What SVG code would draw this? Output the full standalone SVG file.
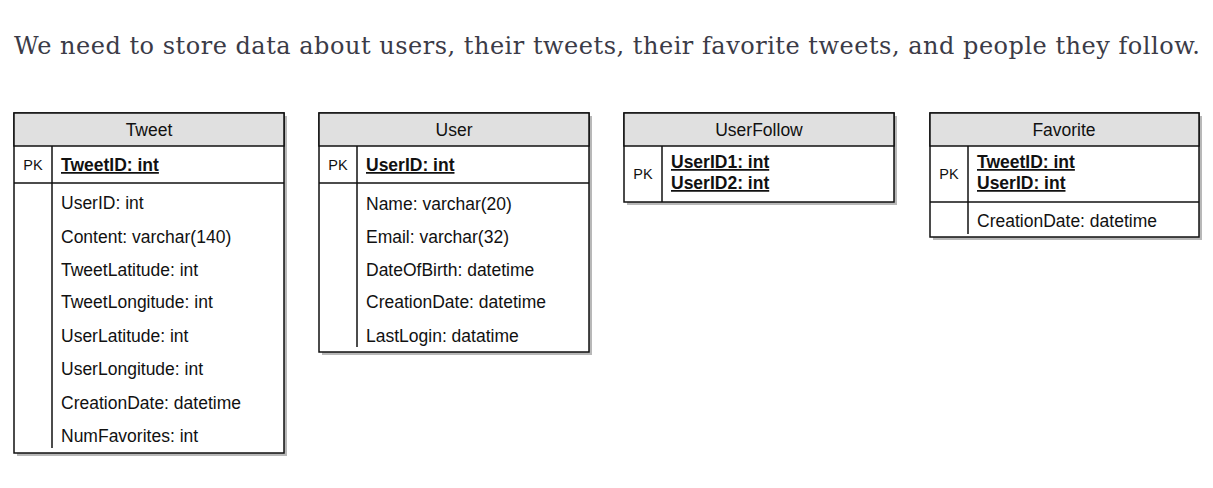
<svg xmlns="http://www.w3.org/2000/svg" width="1213" height="488" viewBox="0 0 1213 488">
<style>
.title{font-family:"DejaVu Serif","Liberation Serif",serif;font-size:24px;fill:#3b3b47}
.hdr{font-family:"Liberation Sans",Arial,sans-serif;font-size:17.5px;fill:#111;text-anchor:middle}
.pk{font-family:"Liberation Sans",Arial,sans-serif;font-size:14.5px;fill:#111;text-anchor:middle}
.fld{font-family:"Liberation Sans",Arial,sans-serif;font-size:17.5px;fill:#111}
.key{font-family:"Liberation Sans",Arial,sans-serif;font-size:17.5px;fill:#111;font-weight:bold;text-decoration:underline}
.shadow{fill:#b8b8b8}
.box{fill:#fff;stroke:#111;stroke-width:1.5}
.head{fill:#e0e0e0;stroke:#111;stroke-width:1.5}
.ln{stroke:#111;stroke-width:1.5;fill:none}
</style>
<rect width="1213" height="488" fill="#fff"/>
<text class="title" x="14" y="54" textLength="1186" lengthAdjust="spacing">We need to store data about users, their tweets, their favorite tweets, and people they follow.</text>

<g id="tweet">
<rect class="shadow" x="17" y="116" width="270" height="340"/>
<rect class="box" x="14" y="113" width="270" height="340"/>
<rect class="head" x="14" y="113" width="270" height="33"/>
<text class="hdr" x="149" y="136">Tweet</text>
<line class="ln" x1="14" y1="183" x2="284" y2="183"/>
<line class="ln" x1="52" y1="146" x2="52" y2="183"/>
<line class="ln" x1="52" y1="183" x2="52" y2="448"/>
<text class="pk" x="33" y="170">PK</text>
<text class="key" x="61" y="171">TweetID: int</text>
<text class="fld" x="61" y="209">UserID: int</text>
<text class="fld" x="61" y="243">Content: varchar(140)</text>
<text class="fld" x="61" y="276">TweetLatitude: int</text>
<text class="fld" x="61" y="308">TweetLongitude: int</text>
<text class="fld" x="61" y="342">UserLatitude: int</text>
<text class="fld" x="61" y="375">UserLongitude: int</text>
<text class="fld" x="61" y="409">CreationDate: datetime</text>
<text class="fld" x="61" y="442">NumFavorites: int</text>
</g>

<g id="user">
<rect class="shadow" x="322" y="116" width="270" height="239"/>
<rect class="box" x="319" y="113" width="270" height="239"/>
<rect class="head" x="319" y="113" width="270" height="33"/>
<text class="hdr" x="454" y="136">User</text>
<line class="ln" x1="319" y1="183" x2="589" y2="183"/>
<line class="ln" x1="357" y1="146" x2="357" y2="183"/>
<line class="ln" x1="357" y1="183" x2="357" y2="347"/>
<text class="pk" x="338" y="170">PK</text>
<text class="key" x="366" y="171">UserID: int</text>
<text class="fld" x="366" y="210">Name: varchar(20)</text>
<text class="fld" x="366" y="243">Email: varchar(32)</text>
<text class="fld" x="366" y="276">DateOfBirth: datetime</text>
<text class="fld" x="366" y="308">CreationDate: datetime</text>
<text class="fld" x="366" y="342">LastLogin: datatime</text>
</g>

<g id="userfollow">
<rect class="shadow" x="627" y="116" width="270" height="89"/>
<rect class="box" x="624" y="113" width="270" height="89"/>
<rect class="head" x="624" y="113" width="270" height="33"/>
<text class="hdr" x="759" y="136">UserFollow</text>
<line class="ln" x1="662" y1="146" x2="662" y2="202"/>
<text class="pk" x="643" y="179">PK</text>
<text class="key" x="671" y="168">UserID1: int</text>
<text class="key" x="671" y="189">UserID2: int</text>
</g>

<g id="favorite">
<rect class="shadow" x="933" y="116" width="269" height="124"/>
<rect class="box" x="930" y="113" width="269" height="124"/>
<rect class="head" x="930" y="113" width="269" height="33"/>
<text class="hdr" x="1064" y="136">Favorite</text>
<line class="ln" x1="930" y1="202" x2="1199" y2="202"/>
<line class="ln" x1="968" y1="146" x2="968" y2="202"/>
<line class="ln" x1="968" y1="202" x2="968" y2="234"/>
<text class="pk" x="949" y="179">PK</text>
<text class="key" x="977" y="168">TweetID: int</text>
<text class="key" x="977" y="189">UserID: int</text>
<text class="fld" x="977" y="227">CreationDate: datetime</text>
</g>

<g id="connectors"></g>
</svg>
